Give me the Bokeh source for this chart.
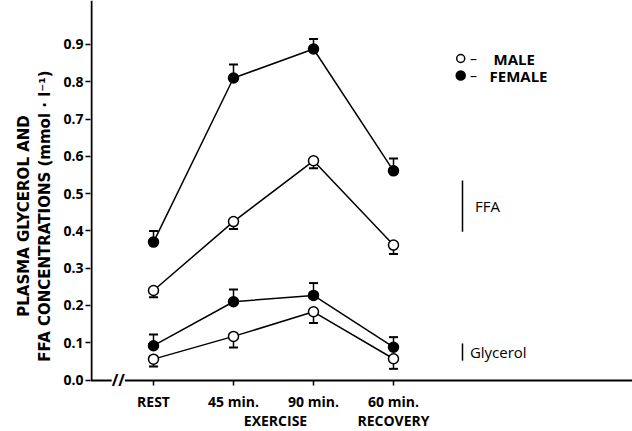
from bokeh.plotting import figure
from bokeh.models import Range1d, FixedTicker, Label
from bokeh.embed import file_html
from bokeh.resources import INLINE

# ---- data ----
categories = ["REST", "45 min.", "90 min.", "60 min."]
x_pos = [0, 1, 2, 3]
phase_labels = ["EXERCISE", "RECOVERY"]
phase_x = [1.525, 3.0]

male_ffa = [0.24, 0.425, 0.588, 0.362]
male_ffa_err = [0.018, 0.02, 0.02, 0.024]
female_ffa = [0.37, 0.81, 0.888, 0.561]
female_ffa_err = [0.03, 0.036, 0.027, 0.033]
male_gly = [0.056, 0.117, 0.183, 0.057]
male_gly_err = [0.02, 0.03, 0.03, 0.027]
female_gly = [0.092, 0.21, 0.227, 0.088]
female_gly_err = [0.03, 0.033, 0.033, 0.027]

y_ticks = [0.0, 0.1, 0.2, 0.3, 0.4, 0.5, 0.6, 0.7, 0.8, 0.9]
y_tick_labels = ["0.0", "0.1", "0.2", "0.3", "0.4", "0.5", "0.6", "0.7", "0.8", "0.9"]
y_title = "PLASMA GLYCEROL AND\nFFA CONCENTRATIONS (mmol · l⁻¹)"

FONT = "Open Sans"
TFONT = "DejaVu Sans"

W, H = 632, 431
X0, X1 = -0.7875, 5.9875
Y0, Y1 = -0.1381, 1.018
p = figure(width=W, height=H, output_backend="svg", toolbar_location=None,
           x_range=Range1d(X0, X1), y_range=Range1d(Y0, Y1),
           min_border_left=90, min_border_right=0, min_border_top=0,
           min_border_bottom=0)
p.outline_line_color = None
p.grid.visible = False
p.background_fill_color = "white"

# axes
for ax in (p.xaxis[0], p.yaxis[0]):
    ax.axis_line_width = 2
    ax.axis_line_color = "black"
    ax.major_tick_in = 0
    ax.major_tick_out = 5
    ax.major_tick_line_width = 1.5
    ax.minor_tick_line_color = None
    ax.major_label_text_font = FONT
    ax.major_label_text_font_size = "14px"
    ax.major_label_text_color = "black"
    ax.major_label_text_font_style = "bold"

p.xaxis.fixed_location = 0
p.xaxis.ticker = FixedTicker(ticks=x_pos)
p.xaxis.major_label_overrides = {x: c for x, c in zip(x_pos, categories)}
p.xaxis.major_label_standoff = 7

p.yaxis.ticker = FixedTicker(ticks=y_ticks)
p.yaxis.major_label_overrides = {t: l for t, l in zip(y_ticks, y_tick_labels)}
p.yaxis.major_label_standoff = 2
p.yaxis.axis_line_color = None
p.yaxis.axis_label = y_title
p.yaxis.axis_label_text_font = TFONT
p.yaxis.axis_label_text_font_size = "15px"
p.yaxis.axis_label_text_font_style = "bold"
p.yaxis.axis_label_text_color = "black"
p.yaxis.axis_label_standoff = 6

# y axis line stopping at 0.0
p.segment(x0=[X0 + 1 / 80], y0=[0], x1=[X0 + 1 / 80], y1=[Y1], line_color="black", line_width=2)


def series(vals, errs, direction, filled):
    ends = [v + direction * e for v, e in zip(vals, errs)]
    p.line(x_pos, vals, line_color="black", line_width=1.5)
    p.segment(x0=x_pos, y0=vals, x1=x_pos, y1=ends, line_color="black", line_width=1.5)
    p.scatter(x_pos, ends, marker="dash", size=9, line_color="black", line_width=2)
    p.scatter(x_pos, vals, marker="circle", size=10,
              fill_color="black" if filled else "white",
              line_color="black", line_width=1.5)


series(female_ffa, female_ffa_err, 1, True)
series(male_ffa, male_ffa_err, -1, False)
series(female_gly, female_gly_err, 1, True)
series(male_gly, male_gly_err, -1, False)


def label(x, y, text, size="15px", bold=False, align="left"):
    p.add_layout(Label(x=x, y=y, text=text, text_font=FONT, text_font_size=size,
                       text_font_style="bold" if bold else "normal", text_color="black",
                       text_baseline="middle", text_align=align))


# legend
p.scatter([3.84], [0.8624], marker="circle", size=8, fill_color="white",
          line_color="black", line_width=1.5)
p.scatter([3.84], [0.8168], marker="circle", size=9, fill_color="black",
          line_color="black", line_width=1.5)
for yy in (0.8624, 0.8168):
    label(4.0, yy, "–", size="14px", align="center")
label(4.25, 0.8624, "MALE", bold=True)
label(4.2, 0.8168, "FEMALE", bold=True)

# brackets
p.segment(x0=[3.8625], y0=[0.535], x1=[3.8625], y1=[0.398], line_color="black", line_width=1.5)
label(4.02, 0.468, "FFA")
p.segment(x0=[3.8625], y0=[0.098], x1=[3.8625], y1=[0.052], line_color="black", line_width=1.5)
label(3.955, 0.075, "Glycerol")

# phase labels under ticks
for t, xx in zip(phase_labels, phase_x):
    label(xx, -0.108, t, size="14px", bold=True, align="center")

# axis break mark
p.add_layout(Label(x=-0.44, y=0.0, text="//", text_font=FONT, text_font_size="16px",
                   text_font_style="bold", text_color="black", text_baseline="middle",
                   text_align="center", background_fill_color="white", level="overlay"))

open("out.html", "w").write(file_html(p, INLINE))
